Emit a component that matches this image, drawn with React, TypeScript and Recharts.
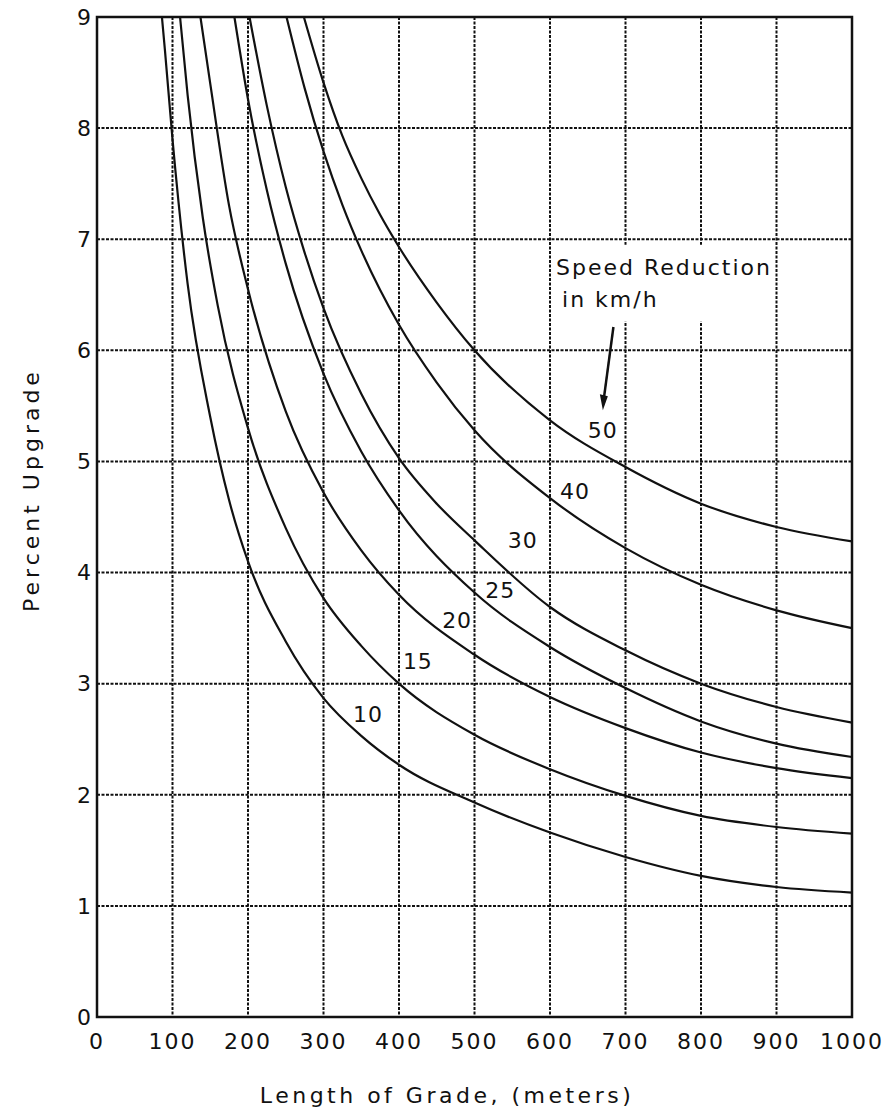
import {
  CartesianGrid,
  Line,
  LineChart,
  ReferenceArea,
  ReferenceDot,
  ReferenceLine,
  XAxis,
  YAxis,
} from "recharts";

const lengthTicks = [0, 100, 200, 300, 400, 500, 600, 700, 800, 900, 1000];
const gradeTicks = [0, 1, 2, 3, 4, 5, 6, 7, 8, 9];

// speed reduction curves, length of grade (m) vs percent upgrade
const reduction10 = [
  { L: 86, g: 9.0 }, { L: 90, g: 8.7 }, { L: 100, g: 7.9 }, { L: 120, g: 6.6 },
  { L: 150, g: 5.4 }, { L: 175, g: 4.65 }, { L: 200, g: 4.1 }, { L: 250, g: 3.38 },
  { L: 300, g: 2.87 }, { L: 350, g: 2.53 }, { L: 400, g: 2.27 }, { L: 500, g: 1.93 },
  { L: 600, g: 1.66 }, { L: 700, g: 1.44 }, { L: 800, g: 1.27 }, { L: 900, g: 1.17 },
  { L: 1000, g: 1.12 },
];
const reduction15 = [
  { L: 110, g: 9.0 }, { L: 120, g: 8.3 }, { L: 140, g: 7.2 }, { L: 160, g: 6.4 },
  { L: 200, g: 5.3 }, { L: 250, g: 4.4 }, { L: 300, g: 3.77 }, { L: 350, g: 3.34 },
  { L: 400, g: 3.0 }, { L: 500, g: 2.54 }, { L: 600, g: 2.23 }, { L: 700, g: 1.99 },
  { L: 800, g: 1.81 }, { L: 900, g: 1.71 }, { L: 1000, g: 1.65 },
];
const reduction20 = [
  { L: 137, g: 9.0 }, { L: 150, g: 8.4 }, { L: 175, g: 7.3 }, { L: 200, g: 6.55 },
  { L: 250, g: 5.45 }, { L: 300, g: 4.72 }, { L: 350, g: 4.2 }, { L: 400, g: 3.8 },
  { L: 500, g: 3.26 }, { L: 600, g: 2.88 }, { L: 700, g: 2.6 }, { L: 800, g: 2.38 },
  { L: 900, g: 2.24 }, { L: 1000, g: 2.15 },
];
const reduction25 = [
  { L: 182, g: 9.0 }, { L: 200, g: 8.26 }, { L: 225, g: 7.44 }, { L: 250, g: 6.78 },
  { L: 300, g: 5.79 }, { L: 350, g: 5.09 }, { L: 400, g: 4.56 }, { L: 500, g: 3.82 },
  { L: 600, g: 3.33 }, { L: 700, g: 2.96 }, { L: 800, g: 2.66 }, { L: 900, g: 2.46 },
  { L: 1000, g: 2.34 },
];
const reduction30 = [
  { L: 202, g: 9.0 }, { L: 225, g: 8.2 }, { L: 250, g: 7.47 }, { L: 275, g: 6.88 },
  { L: 300, g: 6.38 }, { L: 350, g: 5.61 }, { L: 400, g: 5.03 }, { L: 450, g: 4.62 },
  { L: 500, g: 4.29 }, { L: 600, g: 3.69 }, { L: 700, g: 3.3 }, { L: 800, g: 3.0 },
  { L: 900, g: 2.79 }, { L: 1000, g: 2.65 },
];
const reduction40 = [
  { L: 251, g: 9.0 }, { L: 275, g: 8.36 }, { L: 300, g: 7.79 }, { L: 325, g: 7.31 },
  { L: 350, g: 6.9 }, { L: 400, g: 6.23 }, { L: 450, g: 5.71 }, { L: 500, g: 5.28 },
  { L: 600, g: 4.67 }, { L: 700, g: 4.22 }, { L: 800, g: 3.89 }, { L: 900, g: 3.66 },
  { L: 1000, g: 3.5 },
];
const reduction50 = [
  { L: 274, g: 9.0 }, { L: 300, g: 8.41 }, { L: 325, g: 7.93 }, { L: 350, g: 7.55 },
  { L: 375, g: 7.22 }, { L: 400, g: 6.93 }, { L: 450, g: 6.43 }, { L: 500, g: 6.0 },
  { L: 600, g: 5.37 }, { L: 700, g: 4.95 }, { L: 800, g: 4.62 }, { L: 900, g: 4.41 },
  { L: 1000, g: 4.28 },
];

const curves = [reduction10, reduction15, reduction20, reduction25, reduction30, reduction40, reduction50];

const curveLabels = [
  { text: "10", L: 359, g: 2.72 },
  { text: "15", L: 425, g: 3.2 },
  { text: "20", L: 477, g: 3.57 },
  { text: "25", L: 534, g: 3.84 },
  { text: "30", L: 564, g: 4.29 },
  { text: "40", L: 633, g: 4.73 },
  { text: "50", L: 670, g: 5.28 },
];

const FONT = "'DejaVu Sans', sans-serif";
const INK = "#111";

export default function App() {
  return (
    <div style={{ position: "absolute", left: 0, top: 0, width: 889, height: 1118, background: "#fff" }}>
      <LineChart width={889} height={1118} margin={{ top: 17, right: 37, bottom: 0, left: 0 }}>
        <CartesianGrid stroke={INK} strokeWidth={2} strokeDasharray="3 1.5" />
        <XAxis
          dataKey="L"
          type="number"
          domain={[0, 1000]}
          ticks={lengthTicks}
          height={101}
          tickSize={0}
          tickMargin={16}
          axisLine={false}
          tick={{ fontSize: 22, fill: INK, fontFamily: FONT, letterSpacing: 2 }}
          interval={0}
          allowDuplicatedCategory={false}
        />
        <YAxis
          type="number"
          domain={[0, 9]}
          ticks={gradeTicks}
          width={97}
          tickSize={0}
          tickMargin={6}
          axisLine={false}
          tick={{ fontSize: 22, fill: INK, fontFamily: FONT }}
          interval={0}
        />
        <ReferenceArea x1={0} x2={1000} y1={0} y2={9} fill="none" stroke={INK} strokeWidth={2.5} fillOpacity={0} />
        <ReferenceArea x1={604} x2={897} y1={6.26} y2={6.95} fill="#fff" fillOpacity={1} stroke="none" />
        {curves.map((data, i) => (
          <Line
            key={i}
            data={data}
            dataKey="g"
            type="monotone"
            stroke={INK}
            strokeWidth={2.2}
            dot={false}
            isAnimationActive={false}
          />
        ))}
        {curveLabels.map((c) => (
          <ReferenceDot
            key={c.text}
            x={c.L}
            y={c.g}
            r={0}
            shape={(p: any) => (
              <text
                x={p.cx}
                y={p.cy}
                textAnchor="middle"
                dominantBaseline="central"
                fontSize={22}
                fontFamily={FONT}
                fill={INK}
                letterSpacing={1}
              >
                {c.text}
              </text>
            )}
          />
        ))}
        <ReferenceLine
          segment={[{ x: 684, y: 6.21 }, { x: 671, y: 5.55 }]}
          stroke={INK}
          strokeWidth={2.5}
        />
        <ReferenceDot
          x={670}
          y={5.46}
          r={0}
          shape={(p: any) => (
            <path
              d={`M ${p.cx} ${p.cy} L ${p.cx - 3} ${p.cy - 16} L ${p.cx + 5} ${p.cy - 14} Z`}
              fill={INK}
            />
          )}
        />
        <ReferenceDot
          x={608}
          y={6.68}
          r={0}
          shape={(p: any) => (
            <text x={p.cx} y={p.cy} fontSize={22} fontFamily={FONT} fill={INK} letterSpacing={2}>
              <tspan x={p.cx}>Speed Reduction</tspan>
              <tspan x={p.cx + 6} dy={32}>in km/h</tspan>
            </text>
          )}
        />
        <text
          x={447}
          y={1095}
          textAnchor="middle"
          dominantBaseline="central"
          fontSize={22}
          fontFamily={FONT}
          fill={INK}
          letterSpacing={3.5}
        >
          Length of Grade, (meters)
        </text>
        <text
          x={31}
          y={490}
          textAnchor="middle"
          dominantBaseline="central"
          fontSize={22}
          fontFamily={FONT}
          fill={INK}
          letterSpacing={4}
          transform="rotate(-90 31 490)"
        >
          Percent Upgrade
        </text>
      </LineChart>
    </div>
  );
}
